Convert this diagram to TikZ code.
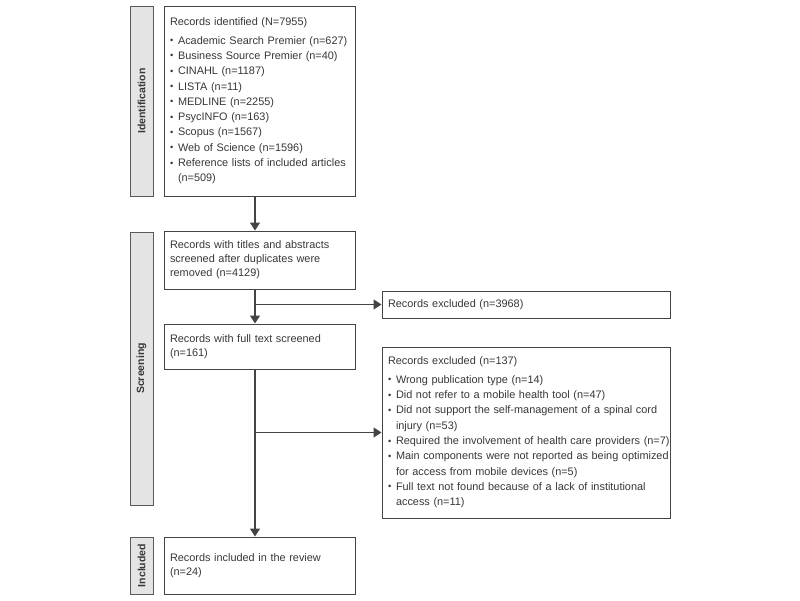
\documentclass[tikz,border=0pt]{standalone}
\usepackage{fontspec}
\setmainfont{Liberation Sans}
\usetikzlibrary{arrows.meta}
\definecolor{txt}{HTML}{383838}
\definecolor{lnc}{HTML}{444444}
\definecolor{sidefill}{HTML}{E4E4E4}
\definecolor{sidedraw}{HTML}{5A5A5A}
\newcommand\bul{\raisebox{0.08ex}{\scalebox{0.85}{•}}}
\newcommand\bitem[1]{\mbox{\makebox[8pt][l]{\bul}#1}}
\newcommand\cont[1]{\mbox{\hspace*{8pt}#1}}
\begin{document}
\begin{tikzpicture}[x=1pt,y=-1pt,
  box/.style={draw=lnc, line width=1pt, fill=white, text=txt, align=left,
    inner xsep=6pt, inner ysep=0pt, font=\fontsize{10.9}{15.3}\selectfont},
  sidebox/.style={draw=sidedraw, line width=1pt, fill=sidefill, text=txt,
    rotate=90, font=\fontsize{10.5}{12}\selectfont\bfseries, inner sep=0pt},
  arr/.style={draw=lnc, line width=1.2pt, -{Triangle[length=8pt,width=10pt]}}]
\useasboundingbox (0,0) rectangle (800,600);

% side labels
\node[sidebox, minimum width=190pt, minimum height=23pt] (sId) at (141.5,101) {Identification};
\node[sidebox, minimum width=273pt, minimum height=23pt] (sSc) at (141.5,368.5) {Screening};
\node[sidebox, minimum width=57pt, minimum height=23pt] (sIn) at (141.5,565.5) {Included};

% main column
\node[box, text width=179pt, minimum height=190pt] (b1) at (259.5,101) {%
Records identified (N=7955)\\[3pt]
\bitem{Academic Search Premier (n=627)}\\
\bitem{Business Source Premier (n=40)}\\
\bitem{CINAHL (n=1187)}\\
\bitem{LISTA (n=11)}\\
\bitem{MEDLINE (n=2255)}\\
\bitem{PsycINFO (n=163)}\\
\bitem{Scopus (n=1567)}\\
\bitem{Web of Science (n=1596)}\\
\bitem{Reference lists of included articles}\\
\cont{(n=509)}};

\node[box, text width=179pt, minimum height=58pt, font=\fontsize{10.9}{14}\selectfont] (b2) at (259.5,260) {%
Records with titles and abstracts\\
screened after duplicates were\\
removed (n=4129)};

\node[box, text width=179pt, minimum height=45pt, font=\fontsize{10.9}{14.5}\selectfont] (b3) at (259.5,346.5) {%
Records with full text screened\\
(n=161)};

\node[box, text width=179pt, minimum height=57pt, font=\fontsize{10.9}{14.5}\selectfont] (b4) at (259.5,565.5) {%
Records included in the review\\
(n=24)};

% exclusion boxes
\node[box, text width=276pt, minimum height=27pt] (e1) at (526,304.5) {%
Records excluded (n=3968)};

\node[box, text width=276pt, minimum height=171pt] (e2) at (526,432.5) {%
Records excluded (n=137)\\[3pt]
\bitem{Wrong publication type (n=14)}\\
\bitem{Did not refer to a mobile health tool (n=47)}\\
\bitem{Did not support the self-management of a spinal cord}\\
\cont{injury (n=53)}\\
\bitem{Required the involvement of health care providers (n=7)}\\
\bitem{Main components were not reported as being optimized}\\
\cont{for access from mobile devices (n=5)}\\
\bitem{Full text not found because of a lack of institutional}\\
\cont{access (n=11)}};

% connectors
\coordinate (sp) at (255,0);
\draw[arr] (b1.south -| sp) -- (b2.north -| sp);
\draw[arr] (b2.south -| sp) -- (b3.north -| sp);
\draw[arr] (b3.south -| sp) -- (b4.north -| sp);
\draw[arr] (sp |- e1.west) -- (e1.west);
\draw[arr] (sp |- e2.west) -- (e2.west);
\end{tikzpicture}
\end{document}
